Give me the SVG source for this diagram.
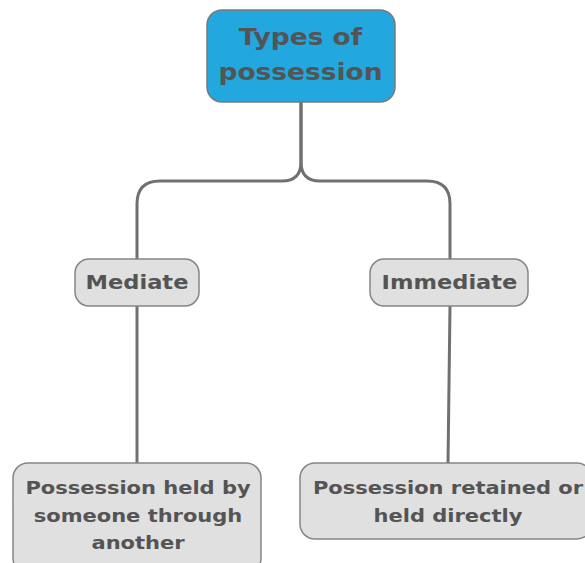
<svg xmlns="http://www.w3.org/2000/svg" width="585" height="563" viewBox="0 0 585 563">
<style>
.box{fill:#e0e0e0;stroke:#858585;stroke-width:1.5}
.root{fill:#22a7de;stroke:#7a7a7a;stroke-width:1.5}
text{font-family:"DejaVu Sans",sans-serif;font-weight:bold;fill:#545454;text-anchor:middle}
.t1{font-size:23px}
.t2{font-size:18.8px}
.t3{font-size:17.5px}
.conn{fill:none;stroke:#707070;stroke-width:3}
</style>
<rect width="585" height="563" fill="#ffffff"/>
<g id="connectors">
<path class="conn" d="M301 102 V162 Q301 181 282 181 H160 Q137 181 137 204 V259"/>
<path class="conn" d="M301 102 V162 Q301 181 320 181 H427 Q450 181 450 204 V259"/>
<path class="conn" d="M137 306 V463"/>
<path class="conn" d="M450 306 L448 463"/>
</g>
<g id="root">
<rect class="root" x="207" y="10" width="188" height="92" rx="15"/>
<text class="t1" transform="translate(300.5 45) scale(1.15 1)">Types of</text>
<text class="t1" transform="translate(300.5 80) scale(1.15 1)">possession</text>
</g>
<g id="mediate">
<rect class="box" x="75" y="259" width="124" height="47" rx="14"/>
<text class="t2" transform="translate(137 289) scale(1.2 1)">Mediate</text>
</g>
<g id="immediate">
<rect class="box" x="370" y="259" width="158" height="47" rx="14"/>
<text class="t2" transform="translate(449.5 289) scale(1.2 1)">Immediate</text>
</g>
<g id="mediate-desc">
<rect class="box" x="13" y="463" width="248" height="110" rx="15"/>
<text class="t3" transform="translate(138 494) scale(1.2 1)">Possession held by</text>
<text class="t3" transform="translate(138 522) scale(1.2 1)">someone through</text>
<text class="t3" transform="translate(138 549) scale(1.2 1)">another</text>
</g>
<g id="immediate-desc">
<rect class="box" x="300" y="463" width="292" height="76" rx="15"/>
<text class="t3" transform="translate(448 494) scale(1.2 1)">Possession retained or</text>
<text class="t3" transform="translate(448 522) scale(1.2 1)">held directly</text>
</g>
</svg>
